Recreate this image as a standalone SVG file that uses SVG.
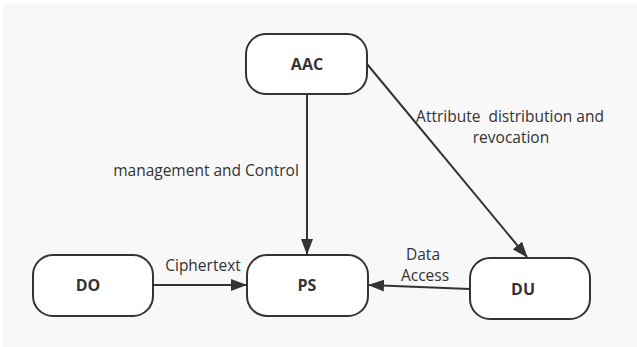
<svg xmlns="http://www.w3.org/2000/svg" width="637" height="347" viewBox="0 0 637 347">
<defs>
<style>
.node rect{fill:#ffffff;stroke:#333333;stroke-width:2}
.node text{font-family:"Open Sans","Noto Sans","DejaVu Sans",sans-serif;font-weight:bold;font-size:16px;fill:#333333;text-anchor:middle}
.edge{stroke:#333333;stroke-width:2;fill:none}
.lbl{font-family:"Open Sans","Noto Sans","DejaVu Sans",sans-serif;font-size:15.5px;fill:#333333}
</style>
<marker id="arr" viewBox="0 0 16 12" refX="15" refY="6" markerWidth="16" markerHeight="12" markerUnits="userSpaceOnUse" orient="auto">
<path d="M0,0 L16,6 L0,12 Z" fill="#333333"/>
</marker>
</defs>
<rect x="0" y="0" width="637" height="347" fill="#ffffff"/>
<rect x="3" y="3" width="634" height="344" fill="#f8f8f8"/>
<g id="connectors">
<line class="edge" x1="307" y1="95" x2="307" y2="254" marker-end="url(#arr)"/>
<line class="edge" x1="367" y1="64" x2="527" y2="257" marker-end="url(#arr)"/>
<line class="edge" x1="154" y1="285" x2="246" y2="285" marker-end="url(#arr)"/>
<line class="edge" x1="470" y1="289" x2="369" y2="285" marker-end="url(#arr)"/>
<text class="lbl" x="206" y="176" text-anchor="middle">management and Control</text>
<text class="lbl" x="510" y="122" text-anchor="middle" xml:space="preserve">Attribute  distribution and</text>
<text class="lbl" x="511" y="143" text-anchor="middle">revocation</text>
<text class="lbl" x="203" y="271" text-anchor="middle">Ciphertext</text>
<text class="lbl" x="423" y="260" text-anchor="middle">Data</text>
<text class="lbl" x="425" y="281" text-anchor="middle">Access</text>
</g>
<g id="AAC" class="node">
<rect x="246" y="34" width="121" height="60" rx="20" ry="20"/>
<text x="307" y="70">AAC</text>
</g>
<g id="DO" class="node">
<rect x="33" y="255" width="120" height="61" rx="20" ry="20"/>
<text x="88" y="291">DO</text>
</g>
<g id="PS" class="node">
<rect x="247" y="255" width="121" height="61" rx="20" ry="20"/>
<text x="307" y="291">PS</text>
</g>
<g id="DU" class="node">
<rect x="470" y="258" width="120" height="61" rx="20" ry="20"/>
<text x="523" y="295">DU</text>
</g>
</svg>
